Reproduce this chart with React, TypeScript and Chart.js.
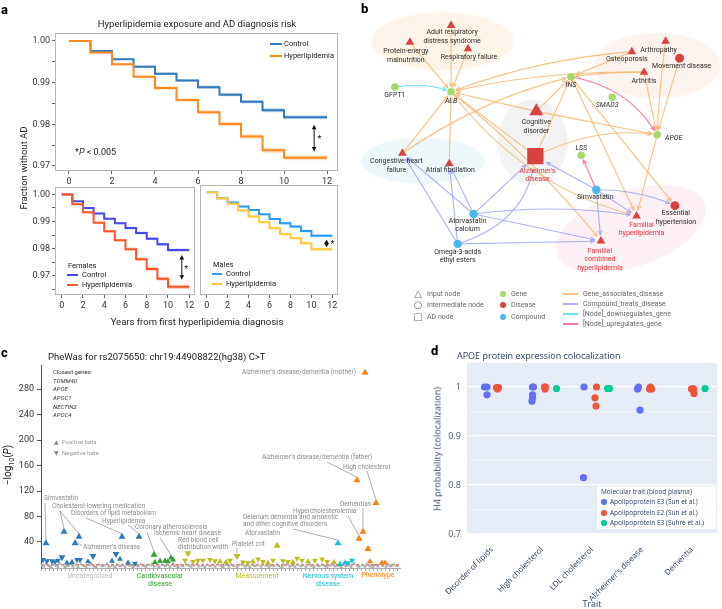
import React, { useEffect, useRef } from "react";
import { Chart, registerables } from "chart.js";

Chart.register(...registerables);

const SANS = "Roboto, 'Noto Sans', 'DejaVu Sans', sans-serif";
const PLOTLY = "'Open Sans', 'Noto Sans', sans-serif";
Chart.defaults.font.family = SANS;

/* ================= a: Kaplan-Meier data ================= */
const kmYears = [0, 1, 2, 3, 4, 5, 6, 7, 8, 9, 10, 12];
const kmXTicks = [0, 2, 4, 6, 8, 10, 12];
const kmYTicksAll = [0.97, 0.975, 0.98, 0.985, 0.99, 0.995, 1.0];
const kmYTicksSub = [0.965, 0.97, 0.975, 0.98, 0.985, 0.99, 0.995, 1.0];
const allControl = [1.0, 0.9976, 0.9956, 0.9938, 0.9921, 0.9905, 0.9889, 0.9871, 0.9854, 0.9834, 0.9817, 0.9817];
const allControlCI = [0, 0.0002, 0.0002, 0.0003, 0.0003, 0.0003, 0.0004, 0.0004, 0.0004, 0.0005, 0.0005, 0.0005];
const allHyper = [1.0, 0.9972, 0.9944, 0.9914, 0.9887, 0.9858, 0.9829, 0.9801, 0.9771, 0.9738, 0.972, 0.972];
const allHyperCI = [0, 0.0002, 0.0003, 0.0003, 0.0004, 0.0004, 0.0004, 0.0005, 0.0005, 0.0006, 0.0006, 0.0006];
const femaleControl = [1.0, 0.9975, 0.995, 0.993, 0.991, 0.9894, 0.9876, 0.9858, 0.9837, 0.9816, 0.9795, 0.9795];
const femaleControlCI = [0, 0.0002, 0.0003, 0.0003, 0.0004, 0.0004, 0.0005, 0.0005, 0.0005, 0.0006, 0.0006, 0.0006];
const femaleHyper = [1.0, 0.9964, 0.9934, 0.9896, 0.9864, 0.9831, 0.9798, 0.9761, 0.9725, 0.9689, 0.9659, 0.9659];
const femaleHyperCI = [0, 0.0003, 0.0004, 0.0004, 0.0005, 0.0005, 0.0006, 0.0006, 0.0007, 0.0007, 0.0008, 0.0008];
const maleControl = [1.0, 0.9978, 0.9963, 0.9948, 0.9936, 0.992, 0.9903, 0.9888, 0.9876, 0.986, 0.9843, 0.9843];
const maleControlCI = [0, 0.0002, 0.0002, 0.0003, 0.0003, 0.0004, 0.0004, 0.0004, 0.0005, 0.0005, 0.0005, 0.0005];
const maleHyper = [1.0, 0.9977, 0.9958, 0.9934, 0.9912, 0.9892, 0.987, 0.9849, 0.9834, 0.9816, 0.9794, 0.9794];
const maleHyperCI = [0, 0.0002, 0.0003, 0.0003, 0.0004, 0.0004, 0.0005, 0.0005, 0.0005, 0.0006, 0.0006, 0.0006];

const COL = {
  allCtrl: "#3279bd", allHyp: "#ff8a1f",
  femCtrl: "#4848e6", femHyp: "#ff5526",
  malCtrl: "#2b9cf6", malHyp: "#ffc93a",
};
const band = (hex: string, a: number) => {
  const n = parseInt(hex.slice(1), 16);
  return `rgba(${(n >> 16) & 255},${(n >> 8) & 255},${n & 255},${a})`;
};

/* ================= b: network data ================= */
const nodeNames = [
  "Protein-energy malnutrition", "Adult respiratory distress syndrome", "Respiratory failure", "GFPT1", "ALB",
  "INS", "SMAD3", "APOE", "LSS", "Osteoporosis", "Arthropathy", "Movement disease", "Arthritis",
  "Cognitive disorder", "Alzheimer's disease", "Congestive heart failure", "Atrial fibrillation",
  "Simvastatin", "Atorvastatin calcium", "Omega-3-acids ethyl esters", "Familial hyperlipidemia",
  "Essential hypertension", "Familial combined hyperlipidemia",
];
const nodeX = [41, 85, 103, 25, 85, 213, 257, 305, 224, 278, 314, 329, 291, 176, 175, 33, 83, 240, 109, 92, 283, 324, 245];
const nodeY = [33, 15, 40, 81, 86, 70, 92, 132, 154, 43, 32, 50, 65, 107, 155, 152, 163, 191, 217, 249, 219, 208, 246];
const nodeKind = ["disease", "disease", "disease", "gene", "gene", "gene", "gene", "gene", "gene", "disease", "disease",
  "disease", "disease", "disease", "disease", "disease", "disease", "compound", "compound", "compound", "disease", "disease", "disease"];
const nodeRole = ["input", "input", "input", "inter", "inter", "inter", "inter", "inter", "inter", "input", "input",
  "inter", "input", "input", "ad", "input", "input", "inter", "inter", "inter", "input", "inter", "input"];
const nodeLabelText = [
  "Protein-energy\nmalnutrition", "Adult respiratory\ndistress syndrome", "Respiratory failure", "GFPT1", "ALB",
  "INS", "SMAD3", "APOE", "LSS", "Osteoporosis", "Arthropathy", "Movement disease", "Arthritis",
  "Cognitive\ndisorder", "Alzheimer's\ndisease", "Congestive heart\nfailure", "Atrial fibrillation",
  "Simvastatin", "Atorvastatin\ncalcium", "Omega-3-acids\nethyl esters", "Familial\nhyperlipidemia",
  "Essential\nhypertension", "Familial\ncombined\nhyperlipidemia",
];
// [source, target, relation]
const edgeList: [number, number, string][] = [
  [0, 4, "assoc"], [1, 4, "assoc"], [2, 4, "assoc"], [9, 4, "assoc"], [12, 4, "assoc"], [9, 5, "assoc"],
  [12, 5, "assoc"], [10, 7, "assoc"], [11, 7, "assoc"], [12, 7, "assoc"], [15, 4, "assoc"], [15, 5, "assoc"],
  [16, 4, "assoc"], [14, 4, "assoc"], [14, 5, "assoc"], [13, 5, "assoc"], [13, 4, "assoc"], [13, 7, "assoc"],
  [14, 7, "assoc"], [5, 20, "assoc"], [5, 21, "assoc"], [7, 20, "assoc"], [4, 20, "assoc"], [4, 22, "assoc"],
  [17, 14, "treats"], [17, 21, "treats"], [17, 20, "treats"], [17, 22, "treats"], [18, 20, "treats"],
  [18, 22, "treats"], [18, 14, "treats"], [18, 15, "treats"], [18, 16, "treats"], [19, 22, "treats"],
  [19, 14, "treats"], [19, 15, "treats"], [19, 16, "treats"], [5, 7, "up"], [17, 8, "up"], [3, 4, "down"],
];

/* ================= c: PheWAS data  [index, -log10(P), beta sign] ================= */
const uncategorizedHits = [
  [5, 38, 1], [23, 56, 1], [38, 48, 1], [34, 38, 1], [81, 48, 1], [98, 48, 1],
  [2, 12, -1], [6, 10, -1], [11, 10, -1], [14, 8.5, -1], [17, 11, -1], [21, 16, -1], [26, 7, 1], [31, 8, 1],
  [36, 12, -1], [39, 12, -1], [47, 9, 1], [52, 18, -1], [71, 10, 1], [75, 21, -1], [79, 13, 1], [87, 7, 1], [94, 6, -1],
];
const cardiovascularHits = [
  [113, 20, 1], [130, 15, 1], [114, 8, 1], [119, 10, 1], [124, 10, 1], [127, 9, 1], [132, 12, 1],
];
const measurementHits = [
  [147, 22, -1], [196, 18, -1], [236, 34, 1],
  [144, 11, -1], [152, 9, -1], [157, 11, -1], [162, 11, -1], [169, 12, -1], [174, 10, -1], [179, 9, 1], [185, 8, 1],
  [189, 11, -1], [202, 8, -1], [207, 7, -1], [212, 9, 1], [217, 13, -1], [222, 9, -1], [227, 7, 1], [232, 11, -1],
  [242, 10, -1], [247, 9, -1], [252, 8, 1], [256, 14, -1], [261, 11, -1], [267, 9, 1], [274, 11, -1], [281, 13, -1],
  [286, 9, -1], [293, 8, 1],
];
const nervousHits = [[297, 38, 1], [299, 5, 1], [304, 7, 1], [307, 7, -1], [311, 11, -1]];
const phenotypeHits = [
  [324, 306, 1], [316, 137, 1], [335, 101, 1], [322, 56, 1], [318, 45, 1], [327, 29, 1], [329, 9, 1], [341, 7, 1], [344, 7, 1],
];
const otherPhenotypes = [
  [1, 3.2], [3, 1.5], [5, 5.8], [8, 2.4], [10, 0.9], [12, 4.1], [15, 2.8], [17, 1.2], [19, 6.3], [22, 3.5], [24, 0.7],
  [27, 2.2], [29, 4.8], [32, 1.6], [35, 3.9], [37, 0.8], [40, 5.1], [43, 2.6], [45, 1.1], [48, 3.4], [50, 6.8],
  [53, 2.0], [55, 0.6], [58, 4.4], [61, 1.9], [63, 3.0], [66, 5.5], [68, 1.3], [71, 2.7], [74, 0.9], [76, 4.2],
  [79, 2.1], [82, 3.6], [84, 1.0], [87, 5.9], [89, 2.5], [92, 0.8], [95, 3.8], [97, 1.7], [100, 4.6], [103, 2.3],
  [105, 1.1], [108, 3.3], [111, 5.2], [113, 1.4], [116, 2.9], [118, 0.7], [121, 4.0], [124, 2.2], [126, 3.7],
  [129, 1.2], [132, 6.1], [134, 2.4], [137, 0.9], [140, 3.5], [142, 1.8], [145, 4.9], [148, 2.6], [150, 1.0],
  [153, 3.1], [156, 5.7], [158, 1.5], [161, 2.8], [164, 0.8], [166, 4.3], [169, 2.0], [172, 3.4], [174, 1.3],
  [177, 5.0], [180, 2.7], [182, 0.9], [185, 3.9], [188, 1.6], [190, 4.5], [193, 2.2], [196, 1.1], [198, 3.6],
  [201, 5.4], [204, 1.7], [206, 2.9], [209, 0.7], [212, 4.1], [214, 2.3], [217, 3.8], [220, 1.4], [222, 6.0],
  [225, 2.5], [228, 1.0], [230, 3.2], [233, 1.9], [236, 4.7], [238, 2.1], [241, 0.8], [244, 3.5], [246, 5.3],
  [249, 1.6], [252, 2.9], [254, 1.1], [257, 4.4], [260, 2.0], [262, 3.3], [265, 1.2], [268, 5.6], [270, 2.6],
  [273, 0.9], [276, 3.7], [278, 1.8], [281, 4.2], [284, 2.4], [286, 1.0], [289, 3.0], [292, 5.1], [294, 1.5],
  [297, 2.7], [300, 0.8], [302, 4.0], [305, 2.2], [308, 3.6], [310, 1.3], [313, 5.8], [316, 2.5], [318, 1.0],
  [321, 3.4], [324, 1.7], [326, 4.6], [329, 2.1], [332, 0.9], [334, 3.9], [337, 1.4], [340, 5.0], [342, 2.8],
  [345, 1.1], [348, 3.2], [350, 1.9], [353, 4.3], [356, 2.3],
];
const pheYTicks = [40, 80, 120, 160, 200, 240, 280];
const sigThreshold = 4;

/* ================= d: colocalization data [trait index, H4] ================= */
const traits = ["Disorder of lipids", "High cholesterol", "LDL cholesterol", "Alzheimer's disease", "Dementia"];
const apoE3Sun = [[0, 1.0], [0, 1.0], [0, 0.984], [1, 1.0], [1, 1.0], [1, 0.984], [1, 0.978], [1, 0.971], [2, 1.0], [2, 0.815], [3, 1.0], [3, 0.996], [3, 0.953]];
const apoE2Sun = [[0, 0.999], [0, 0.999], [0, 0.996], [1, 1.0], [1, 1.0], [1, 0.996], [2, 1.0], [2, 0.978], [2, 0.961], [3, 1.0], [3, 0.996], [3, 0.996], [4, 0.996], [4, 0.996], [4, 0.987]];
const apoE3Suhre = [[1, 0.997], [2, 0.997], [2, 0.997], [4, 0.997]];
const colocYTicks = [0.7, 0.75, 0.8, 0.85, 0.9, 0.95, 1.0];
// strip layout: dodge + jitter offsets (category units)
const apoE3SunShift = [-0.15, -0.1, -0.1, -0.19, -0.17, -0.19, -0.19, -0.2, -0.16, -0.17, -0.07, -0.09, -0.04];
const apoE2SunShift = [0.09, 0.13, 0.11, 0.05, 0.07, 0.06, 0.09, 0.06, 0.08, 0.17, 0.15, 0.19, -0.01, 0.03, 0.04];
const apoE3SuhreShift = [0.29, 0.31, 0.35, 0.26];

/* ================= plugins ================= */
const framePlugin = {
  id: "frame",
  afterDraw(chart: any, _a: any, o: any) {
    const { ctx, chartArea: a } = chart;
    ctx.save();
    ctx.strokeStyle = o.color || "#aaa";
    ctx.lineWidth = 1;
    ctx.strokeRect(Math.round(a.left) + 0.5, Math.round(a.top) + 0.5, Math.round(a.right - a.left) - 1, Math.round(a.bottom - a.top) - 1);
    ctx.restore();
  },
};

const kmArrowPlugin = {
  id: "kmArrow",
  afterDatasetsDraw(chart: any, _a: any, o: any) {
    if (!o || o.x === undefined) return;
    const { ctx, scales } = chart;
    const px = scales.x.getPixelForValue(o.x);
    const p1 = scales.y.getPixelForValue(o.y1);
    const p2 = scales.y.getPixelForValue(o.y2);
    ctx.save();
    ctx.strokeStyle = "#111";
    ctx.fillStyle = "#111";
    ctx.lineWidth = 1;
    ctx.beginPath();
    ctx.moveTo(px, p1 + 3);
    ctx.lineTo(px, p2 - 3);
    ctx.stroke();
    ctx.beginPath();
    ctx.moveTo(px, p1); ctx.lineTo(px - 2.3, p1 + 4.5); ctx.lineTo(px + 2.3, p1 + 4.5); ctx.closePath(); ctx.fill();
    ctx.beginPath();
    ctx.moveTo(px, p2); ctx.lineTo(px - 2.3, p2 - 4.5); ctx.lineTo(px + 2.3, p2 - 4.5); ctx.closePath(); ctx.fill();
    ctx.font = `9px ${SANS}`;
    ctx.textAlign = "center";
    ctx.textBaseline = "middle";
    ctx.fillText("*", scales.x.getPixelForValue(o.sx), scales.y.getPixelForValue(o.sy) + 2);
    ctx.restore();
  },
};

function kmConfig(p: any) {
  const datasets: any[] = [];
  p.series.forEach((s: any) =>
    datasets.push({
      data: kmYears.map((t, i) => ({ x: t, y: s.v[i] })),
      borderColor: s.color, borderWidth: 2, pointRadius: 0, stepped: "before", fill: false,
    })
  );
  p.series.forEach((s: any) => {
    datasets.push({
      data: kmYears.map((t, i) => ({ x: t, y: s.v[i] - s.ci[i] })),
      borderWidth: 0, borderColor: "transparent", pointRadius: 0, stepped: "before", fill: false,
    });
    datasets.push({
      data: kmYears.map((t, i) => ({ x: t, y: s.v[i] + s.ci[i] })),
      borderWidth: 0, borderColor: "transparent", pointRadius: 0, stepped: "before", fill: "-1",
      backgroundColor: band(s.color, 0.28),
    });
  });
  return {
    type: "line",
    data: { datasets },
    options: {
      animation: false, responsive: false, events: [],
      layout: { padding: p.pad },
      scales: {
        x: {
          type: "linear", min: p.xMin, max: p.xMax,
          afterBuildTicks: (s: any) => { s.ticks = kmXTicks.map((v) => ({ value: v })); },
          afterFit: (s: any) => { s.height = p.xH; },
          ticks: { font: { size: 9, family: SANS }, color: "#333", padding: 2, maxRotation: 0, autoSkip: false },
          grid: { drawOnChartArea: false, tickLength: 3, color: "#666" },
          border: { display: false },
        },
        y: {
          type: "linear", min: p.yMin, max: p.yMax,
          afterBuildTicks: (s: any) => { s.ticks = p.yTicks.map((v: number) => ({ value: v })); },
          afterFit: (s: any) => { s.width = p.yW; },
          ticks: {
            display: p.yLabels, font: { size: 9, family: SANS }, color: "#333", padding: 2, autoSkip: false,
            callback: (v: number) => (Math.abs(v * 100 - Math.round(v * 100)) < 1e-6 ? v.toFixed(2) : ""),
          },
          grid: { drawOnChartArea: false, drawTicks: p.yLabels, tickLength: 3, color: "#666" },
          border: { display: false },
        },
      },
      plugins: { legend: { display: false }, tooltip: { enabled: false }, frame: { color: "#b5b5b5" }, kmArrow: p.arrow },
    },
    plugins: [framePlugin, kmArrowPlugin],
  };
}

const makeAll = () =>
  kmConfig({
    series: [
      { v: allHyper, ci: allHyperCI, color: COL.allHyp },
      { v: allControl, ci: allControlCI, color: COL.allCtrl },
    ],
    xMin: -0.65, xMax: 12.51, yMin: 0.9688, yMax: 1.0019, yTicks: kmYTicksAll, yLabels: true,
    yW: 55, xH: 19, pad: { top: 33, right: 7, left: 0, bottom: 0 },
    arrow: { x: 11.4, y1: 0.9799, y2: 0.9735, sx: 11.65, sy: 0.9768 },
  });
const makeFemale = () =>
  kmConfig({
    series: [
      { v: femaleHyper, ci: femaleHyperCI, color: COL.femHyp },
      { v: femaleControl, ci: femaleControlCI, color: COL.femCtrl },
    ],
    xMin: -0.63, xMax: 12.54, yMin: 0.9629, yMax: 1.0026, yTicks: kmYTicksSub, yLabels: true,
    yW: 55, xH: 20, pad: { top: 5, right: 3, left: 0, bottom: 0 },
    arrow: { x: 11.3, y1: 0.9777, y2: 0.9685, sx: 11.7, sy: 0.9731 },
  });
const makeMale = () =>
  kmConfig({
    series: [
      { v: maleHyper, ci: maleHyperCI, color: COL.malHyp },
      { v: maleControl, ci: maleControlCI, color: COL.malCtrl },
    ],
    xMin: -0.64, xMax: 12.54, yMin: 0.9629, yMax: 1.0026, yTicks: kmYTicksSub, yLabels: false,
    yW: 2, xH: 20, pad: { top: 5, right: 5, left: 0, bottom: 0 },
    arrow: { x: 11.45, y1: 0.9829, y2: 0.98, sx: 12.0, sy: 0.9816 },
  });

/* ---------- b: network ---------- */
const netZones = [
  { cx: 76, cy: 32, rx: 71, ry: 29, rot: 0, color: "#fef4e8" },
  { cx: 305, cy: 58, rx: 63, ry: 33, rot: 0, color: "#fdf3ef" },
  { cx: 172, cy: 140, rx: 35, ry: 43, rot: 0, color: "#f3f3f3" },
  { cx: 55, cy: 160, rx: 62, ry: 23, rot: 0, color: "#eef8fb" },
  { cx: 277, cy: 233, rx: 78, ry: 38, rot: -0.33, color: "#fef1f5" },
];
const edgeBend = [0, 0, 0, 0.07, 0.06, 0, 0.03, 0.02, 0, 0, 0, -0.09, 0, 0, 0, 0, 0, 0, -0.15, 0, 0, 0, 0.17, -0.05,
  0, -0.1, 0, 0, -0.07, 0, 0, 0, 0, 0, 0.3, 0, 0, -0.22, 0, -0.13];
const relColor: any = {
  assoc: "rgba(246,186,120,0.9)", treats: "rgba(150,160,245,0.8)", down: "rgba(100,222,245,0.95)", up: "rgba(245,105,148,0.9)",
};
const kindColor: any = { disease: "#d9423e", gene: "#a6d96c", compound: "#4db6ea" };
const roleShape: any = { input: "triangle", inter: "circle", ad: "rect" };
const bigNode: any = { "Cognitive disorder": 8 };
const redLabels = ["Alzheimer's disease", "Familial hyperlipidemia", "Familial combined hyperlipidemia"];
// label offsets [dx, dy, align]
const nodeLabelPos: any[] = [
  [-4, 9, "center"], [1, 7, "center"], [1, 8, "center"], [0, 8, "center"], [0, 9, "center"], [0, 8, "center"],
  [-5, 8, "center"], [8, 4, "left"], [0, -7, "center"], [-5, 8, "center"], [-7, 9, "center"], [2, 8, "center"],
  [0, 9, "center"], [0, 11, "center"], [2, 15, "center"], [-6, 8, "center"], [1, 7, "center"], [-1, 7, "center"],
  [-6, 7, "center"], [0, 8, "center"], [5, 9, "center"], [1, 8, "center"], [-1, 10, "center"],
];
function nodeRadius(i: number) {
  const n = nodeNames[i];
  if (bigNode[n]) return bigNode[n];
  const r = nodeRole[i];
  if (r === "ad") return 11.5;
  if (r === "input") return 5;
  const k = nodeKind[i];
  return k === "gene" ? 3.8 : k === "compound" ? 4.2 : 4.5;
}

const netPlugin = {
  id: "net",
  beforeDatasetsDraw(chart: any) {
    const { ctx, scales } = chart;
    const X = (v: number) => scales.x.getPixelForValue(v);
    const Y = (v: number) => scales.y.getPixelForValue(v);
    ctx.save();
    netZones.forEach((z) => {
      ctx.beginPath();
      ctx.ellipse(X(z.cx), Y(z.cy), z.rx, z.ry, z.rot, 0, Math.PI * 2);
      ctx.fillStyle = z.color;
      ctx.fill();
    });
    edgeList.forEach(([s, t, rel], k) => {
      const x1 = X(nodeX[s]), y1 = Y(nodeY[s]), x2 = X(nodeX[t]), y2 = Y(nodeY[t]);
      const dx = x2 - x1, dy = y2 - y1;
      const b = edgeBend[k] || 0;
      const mx = (x1 + x2) / 2 - dy * b, my = (y1 + y2) / 2 + dx * b;
      const tx = x2 - mx, ty = y2 - my, tl = Math.hypot(tx, ty);
      const rr = nodeRadius(t) + 1.5;
      const ex = x2 - (tx / tl) * rr, ey = y2 - (ty / tl) * rr;
      ctx.strokeStyle = relColor[rel];
      ctx.lineWidth = 1.1;
      ctx.beginPath();
      ctx.moveTo(x1, y1);
      ctx.quadraticCurveTo(mx, my, ex, ey);
      ctx.stroke();
      const ang = Math.atan2(ty, tx);
      ctx.beginPath();
      ctx.moveTo(ex - 4.5 * Math.cos(ang - 0.45), ey - 4.5 * Math.sin(ang - 0.45));
      ctx.lineTo(ex, ey);
      ctx.lineTo(ex - 4.5 * Math.cos(ang + 0.45), ey - 4.5 * Math.sin(ang + 0.45));
      ctx.stroke();
    });
    ctx.restore();
  },
  afterDatasetsDraw(chart: any) {
    const { ctx, scales } = chart;
    ctx.save();
    ctx.textBaseline = "middle";
    nodeNames.forEach((n, i) => {
      const [dx, dy, al] = nodeLabelPos[i];
      const italic = nodeKind[i] === "gene" && n !== "GFPT1";
      ctx.font = `${italic ? "italic " : ""}7px ${SANS}`;
      ctx.fillStyle = redLabels.includes(n) ? "#e2343c" : "#2b2b2b";
      ctx.textAlign = al;
      const x = scales.x.getPixelForValue(nodeX[i]) + dx;
      const y = scales.y.getPixelForValue(nodeY[i]) + dy;
      nodeLabelText[i].split("\n").forEach((line, k) => ctx.fillText(line, x, y + k * 8.5));
    });
    ctx.restore();
  },
};

const makeNet = () => ({
  type: "scatter",
  data: {
    datasets: [
      {
        data: nodeNames.map((_, i) => ({ x: nodeX[i], y: nodeY[i] })),
        pointStyle: (c: any) => roleShape[nodeRole[c.dataIndex]] || "circle",
        pointRadius: (c: any) => nodeRadius(c.dataIndex ?? 0),
        pointBackgroundColor: (c: any) => kindColor[nodeKind[c.dataIndex]] || "#999",
        pointBorderWidth: 0,
      },
    ],
  },
  options: {
    animation: false, responsive: false, events: [],
    layout: { padding: 0 },
    scales: {
      x: { type: "linear", min: 0, max: 362, display: false },
      y: { type: "linear", min: 0, max: 345, reverse: true, display: false },
    },
    plugins: { legend: { display: false }, tooltip: { enabled: false } },
  },
  plugins: [netPlugin],
});

/* ---------- c: PheWAS ---------- */
const pheCats = [
  { name: "Uncategorized", color: "#2b7bba", pts: uncategorizedHits },
  { name: "Cardiovascular disease", color: "#2ca02c", pts: cardiovascularHits },
  { name: "Measurement", color: "#bcbd22", pts: measurementHits },
  { name: "Nervous system disease", color: "#17becf", pts: nervousHits },
  { name: "Phenotype", color: "#ff7f0e", pts: phenotypeHits },
];
const pheLabels = [
  { text: ["Simvastatin"], x: 44, y: 158, links: [[45, 163, 0, 0]] },
  { text: ["Cholesterol-lowering medication"], x: 52, y: 166, links: [[60, 171, 0, 1], [60, 171, 0, 2]] },
  { text: ["Disorders of lipid metabolism"], x: 71, y: 173, links: [[86, 178, 0, 4]] },
  { text: ["Hyperlipidemia"], x: 102, y: 181, links: [[128, 185, 0, 5]] },
  { text: ["Alzheimer's disease"], x: 83, y: 207, links: [[82, 206, 0, 3]] },
  { text: ["Coronary atherosclerosis"], x: 135, y: 187, links: [[147, 192, 1, 0]] },
  { text: ["Ischemic heart disease"], x: 154, y: 193, links: [[160, 198, 1, 1]] },
  { text: ["Red blood cell", "distribution width"], x: 178, y: 200, links: [] },
  { text: ["Platelet crit"], x: 232, y: 204, links: [[237, 208, 2, 1]] },
  { text: ["Atorvastatin"], x: 245, y: 193, links: [] },
  { text: ["Delerium dementia and amnestic", "and other cognitive disorders"], x: 243, y: 177, links: [[293, 189, 3, 0]] },
  { text: ["Hypercholesterolemia"], x: 293, y: 171, links: [[348, 176, 4, 4]] },
  { text: ["Dementias"], x: 340, y: 164, links: [[363, 168, 4, 3]] },
  { text: ["Alzheimer's disease/dementia (father)"], x: 262, y: 117, links: [[327, 122, 4, 1]] },
  { text: ["High cholesterol"], x: 343, y: 127, links: [[367, 131, 4, 2]] },
  { text: ["Alzheimer's disease/dementia (mother)"], x: 242, y: 32, links: [] },
];
const pheAnnoPlugin = {
  id: "pheAnno",
  beforeDatasetsDraw(chart: any) {
    const { ctx, chartArea, scales } = chart;
    ctx.save();
    const ty = scales.y.getPixelForValue(sigThreshold);
    ctx.strokeStyle = "#e8473e";
    ctx.lineWidth = 1.2;
    ctx.setLineDash([3, 2]);
    ctx.beginPath();
    ctx.moveTo(chartArea.left, ty);
    ctx.lineTo(chartArea.right, ty);
    ctx.stroke();
    ctx.setLineDash([]);
    ctx.font = `6.5px ${SANS}`;
    ctx.fillStyle = "#8a8a8a";
    ctx.strokeStyle = "#8a8a8a";
    ctx.lineWidth = 0.7;
    ctx.textBaseline = "middle";
    ctx.textAlign = "left";
    pheLabels.forEach((it) => {
      it.text.forEach((t, k) => ctx.fillText(t, it.x, it.y + k * 7.5));
      it.links.forEach(([sx, sy, ds, pi]) => {
        const el = chart.getDatasetMeta(ds).data[pi];
        if (!el) return;
        ctx.beginPath();
        ctx.moveTo(sx, sy);
        ctx.lineTo(el.x, el.y - 3);
        ctx.stroke();
      });
    });
    ctx.restore();
  },
};
const makePhe = () => ({
  type: "scatter",
  data: {
    datasets: [
      ...pheCats.map((c) => ({
        data: c.pts.map(([x, y, d]) => ({ x, y, d })),
        pointStyle: "triangle",
        pointRadius: (ctx: any) => (ctx.raw && ctx.raw.y > 15 ? 4 : 3.4),
        pointRotation: (ctx: any) => (ctx.raw && ctx.raw.d < 0 ? 180 : 0),
        pointBackgroundColor: c.color,
        pointBorderWidth: 0,
      })),
      {
        data: otherPhenotypes.map(([x, y]) => ({ x, y })),
        pointStyle: "triangle", pointRadius: 2.2, pointBackgroundColor: "#ababab", pointBorderWidth: 0,
      },
    ],
  },
  options: {
    animation: false, responsive: false, events: [],
    layout: { padding: { top: 25, right: 5, left: 0, bottom: 0 } },
    scales: {
      x: {
        type: "linear", min: 0, max: 359,
        afterBuildTicks: (s: any) => { const t = []; for (let v = 0; v <= 358; v += 4) t.push({ value: v }); s.ticks = t; },
        afterFit: (s: any) => { s.height = 41; },
        ticks: { callback: () => "", autoSkip: false, maxRotation: 0 },
        grid: { drawOnChartArea: false, tickLength: 3, color: "#aaa" },
        border: { display: true, color: "#aaa" },
      },
      y: {
        type: "linear", min: -1, max: 318,
        afterBuildTicks: (s: any) => { s.ticks = pheYTicks.map((v) => ({ value: v })); },
        afterFit: (s: any) => { s.width = 41; },
        ticks: { font: { size: 9, family: SANS }, color: "#333", padding: 3, autoSkip: false },
        grid: { drawOnChartArea: false, tickLength: 4, color: "#555" },
        border: { display: true, color: "#555" },
      },
    },
    plugins: { legend: { display: false }, tooltip: { enabled: false } },
  },
  plugins: [pheAnnoPlugin],
});

/* ---------- d: colocalization ---------- */
const plotBgPlugin = {
  id: "plotBg",
  beforeDraw(chart: any) {
    const { ctx, chartArea: a } = chart;
    ctx.save();
    ctx.fillStyle = "#e5ecf6";
    ctx.fillRect(a.left, a.top, a.right - a.left, a.bottom - a.top);
    ctx.restore();
  },
};
const isMajor = (v: number) => Math.abs(v * 10 - Math.round(v * 10)) < 1e-6;
const makeColoc = () => ({
  type: "scatter",
  data: {
    datasets: [
      { pts: apoE3Sun, sh: apoE3SunShift, color: "#636efa" },
      { pts: apoE2Sun, sh: apoE2SunShift, color: "#ef553b" },
      { pts: apoE3Suhre, sh: apoE3SuhreShift, color: "#00cc96" },
    ].map((g) => ({
      data: g.pts.map(([t, h], i) => ({ x: t + g.sh[i], y: h })),
      pointRadius: 3.6, pointBackgroundColor: g.color, pointBorderWidth: 0,
    })),
  },
  options: {
    animation: false, responsive: false, events: [],
    layout: { padding: { top: 23, right: 5, left: 0, bottom: 0 } },
    scales: {
      x: {
        type: "linear", min: -0.5, max: 4.5,
        afterBuildTicks: (s: any) => { s.ticks = traits.map((_, i) => ({ value: i })); },
        afterFit: (s: any) => { s.height = 75; },
        ticks: {
          callback: (v: number) => traits[Math.round(v)] ?? "",
          minRotation: 45, maxRotation: 45, autoSkip: false, padding: 3,
          font: { size: 8, family: PLOTLY }, color: "#2a3f5f",
        },
        grid: { display: false },
        border: { display: false },
      },
      y: {
        type: "linear", min: 0.7, max: 1.049,
        afterBuildTicks: (s: any) => { s.ticks = colocYTicks.map((v) => ({ value: v })); },
        afterFit: (s: any) => { s.width = 57; },
        ticks: {
          callback: (v: number) => (isMajor(v) ? String(Math.round(v * 10) / 10) : ""),
          autoSkip: false, padding: 6, font: { size: 9, family: PLOTLY }, color: "#4a5a70",
        },
        grid: {
          drawTicks: false,
          color: (c: any) => (c.tick && isMajor(c.tick.value) ? "#ffffff" : "rgba(255,255,255,0.6)"),
          lineWidth: (c: any) => (c.tick && isMajor(c.tick.value) ? 1.2 : 0.8),
        },
        border: { display: false },
      },
    },
    plugins: { legend: { display: false }, tooltip: { enabled: false } },
  },
  plugins: [plotBgPlugin],
});

/* ================= components ================= */
function ChartBox({ left, top, width, height, make }: any) {
  const ref = useRef<HTMLCanvasElement>(null);
  useEffect(() => {
    const c = new Chart(ref.current as any, make());
    return () => c.destroy();
  }, [make]);
  return <canvas ref={ref} width={width} height={height} style={{ position: "absolute", left, top, width, height }} />;
}

function T({ x, y, s = 8, c = "#222", a = "start", w = 400, it = false, rot = 0, f = SANS, children }: any) {
  const tx = a === "start" ? "0" : a === "middle" ? "-50%" : "-100%";
  return (
    <div
      style={{
        position: "absolute", left: x, top: y, transform: `translate(${tx},-50%) rotate(${rot}deg)`,
        fontSize: s, color: c, fontWeight: w, fontStyle: it ? "italic" : "normal", fontFamily: f,
        whiteSpace: "nowrap", lineHeight: 1,
      }}
    >
      {children}
    </div>
  );
}
function LegLine({ x1, x2, y, color, h = 2 }: any) {
  return <div style={{ position: "absolute", left: x1, top: y - h / 2, width: x2 - x1, height: h, background: color }} />;
}
function Dot({ x, y, r, color }: any) {
  return <div style={{ position: "absolute", left: x - r, top: y - r, width: 2 * r, height: 2 * r, borderRadius: "50%", background: color }} />;
}

export default function App() {
  return (
    <div style={{ position: "absolute", left: 0, top: 0, width: 722, height: 609, background: "#fff", overflow: "hidden", fontFamily: SANS }}>
      {/* ---------- panel a ---------- */}
      <ChartBox left={0} top={0} width={345} height={190} make={makeAll} />
      <ChartBox left={0} top={180} width={198} height={135} make={makeFemale} />
      <ChartBox left={198} top={180} width={145} height={135} make={makeMale} />
      <T x={1} y={9} s={13} w={800} c="#000">a</T>
      <T x={197} y={24} s={9.5} a="middle" c="#222">Hyperlipidemia exposure and AD diagnosis risk</T>
      <LegLine x1={270} x2={282} y={44} color={COL.allCtrl} />
      <T x={284} y={44} s={7.5}>Control</T>
      <LegLine x1={270} x2={282} y={56} color={COL.allHyp} />
      <T x={284} y={56} s={7.5}>Hyperlipidemia</T>
      <T x={75} y={152} s={9}>*<i>P</i> &lt; 0.005</T>
      <T x={68} y={266} s={7.5}>Females</T>
      <LegLine x1={67} x2={78} y={275} color={COL.femCtrl} />
      <T x={82} y={275} s={7.5}>Control</T>
      <LegLine x1={67} x2={78} y={285} color={COL.femHyp} />
      <T x={82} y={285} s={7.5}>Hyperlipidemia</T>
      <T x={213} y={265} s={7.5}>Males</T>
      <LegLine x1={212} x2={222} y={274} color={COL.malCtrl} />
      <T x={226} y={274} s={7.5}>Control</T>
      <LegLine x1={212} x2={222} y={284} color={COL.malHyp} />
      <T x={226} y={284} s={7.5}>Hyperlipidemia</T>
      <T x={24} y={168} s={9.5} a="middle" rot={-90}>Fraction without AD</T>
      <T x={197} y={322} s={9.5} a="middle">Years from first hyperlipidemia diagnosis</T>

      {/* ---------- panel b ---------- */}
      <ChartBox left={360} top={0} width={362} height={345} make={makeNet} />
      <T x={361} y={8} s={13} w={800} c="#000">b</T>
      <T x={418} y={294} s={10} a="middle" c="#777">△</T>
      <T x={427} y={294} s={7} c="#666">Input node</T>
      <T x={418} y={305} s={10} a="middle" c="#777">○</T>
      <T x={427} y={305} s={7} c="#666">Intermediate node</T>
      <T x={418} y={317} s={10} a="middle" c="#777">□</T>
      <T x={427} y={317} s={7} c="#666">AD node</T>
      <Dot x={503} y={294} r={3.3} color={kindColor.gene} />
      <T x={511} y={294} s={7} c="#666">Gene</T>
      <Dot x={503} y={305} r={3.3} color={kindColor.disease} />
      <T x={511} y={305} s={7} c="#666">Disease</T>
      <Dot x={503} y={317} r={3.3} color={kindColor.compound} />
      <T x={511} y={317} s={7} c="#666">Compound</T>
      <LegLine x1={563} x2={578} y={294} h={1.3} color={relColor.assoc} />
      <T x={583} y={294} s={7} c="#666">Gene_associates_disease</T>
      <LegLine x1={563} x2={578} y={304} h={1.3} color={relColor.treats} />
      <T x={583} y={304} s={7} c="#666">Compound_treats_disease</T>
      <LegLine x1={563} x2={578} y={314} h={1.3} color={relColor.down} />
      <T x={583} y={314} s={7} c="#666">[Node]_downregulates_gene</T>
      <LegLine x1={563} x2={578} y={324} h={1.3} color={relColor.up} />
      <T x={583} y={324} s={7} c="#666">[Node]_upregulates_gene</T>

      {/* ---------- panel c ---------- */}
      <ChartBox left={0} top={340} width={405} height={269} make={makePhe} />
      <T x={1} y={352} s={13} w={800} c="#000">c</T>
      <T x={48} y={357} s={9.5} c="#222">PheWas for rs2075650: chr19:44908822(hg38) C&gt;T</T>
      <T x={53} y={372} s={6} c="#333">Closest genes:</T>
      <T x={53} y={381} s={6} c="#333" it>TOMM40</T>
      <T x={53} y={389} s={6} c="#333" it>APOE</T>
      <T x={53} y={398} s={6} c="#333" it>APOC1</T>
      <T x={53} y={407} s={6} c="#333" it>NECTIN2</T>
      <T x={53} y={415} s={6} c="#333" it>APOC4</T>
      <T x={54} y={442} s={6} c="#888">▲</T>
      <T x={62} y={442} s={6} c="#999">Positive beta</T>
      <T x={54} y={453} s={6} c="#888">▼</T>
      <T x={62} y={453} s={6} c="#999">Negative beta</T>
      <T x={9} y={465} s={10} a="middle" rot={-90}>
        −log<sub style={{ fontSize: 7 }}>10</sub>(<i>P</i>)
      </T>
      <T x={90} y={576} s={7} a="middle" c="#bbbbbb">Uncategorized</T>
      <T x={160} y={576} s={7} a="middle" c="#2ca02c">Cardiovascular</T>
      <T x={160} y={583.5} s={7} a="middle" c="#2ca02c">disease</T>
      <T x={257} y={576} s={7} a="middle" c="#bcbd22">Measurement</T>
      <T x={328} y={576} s={7} a="middle" c="#17becf">Nervous system</T>
      <T x={328} y={583.5} s={7} a="middle" c="#17becf">disease</T>
      <T x={378} y={575} s={7} a="middle" c="#ff7f0e">Phenotype</T>

      {/* ---------- panel d ---------- */}
      <ChartBox left={410} top={340} width={312} height={269} make={makeColoc} />
      <T x={431} y={350} s={13} w={800} c="#000">d</T>
      <T x={457} y={355} s={9} f={PLOTLY} c="#2a3f5f">APOE protein expression colocalization</T>
      <T x={437} y={449} s={9} a="middle" rot={-90} f={PLOTLY} c="#2a3f5f">H4 probability (colocalization)</T>
      <T x={592} y={603} s={9} a="middle" f={PLOTLY} c="#2a3f5f">Trait</T>
      <div style={{ position: "absolute", left: 597, top: 486, width: 119, height: 43, background: "rgba(255,255,255,0.9)" }} />
      <T x={601} y={492} s={6.5} f={PLOTLY} c="#2a3f5f">Molecular trait (blood plasma)</T>
      <Dot x={604} y={502} r={2.8} color="#636efa" />
      <T x={610} y={502} s={6.5} f={PLOTLY} c="#2a3f5f">Apolipoprotein E3 (Sun et al.)</T>
      <Dot x={604} y={513} r={2.8} color="#ef553b" />
      <T x={610} y={513} s={6.5} f={PLOTLY} c="#2a3f5f">Apolipoprotein E2 (Sun et al.)</T>
      <Dot x={604} y={523} r={2.8} color="#00cc96" />
      <T x={610} y={523} s={6.5} f={PLOTLY} c="#2a3f5f">Apolipoprotein E3 (Suhre et al.)</T>
    </div>
  );
}
